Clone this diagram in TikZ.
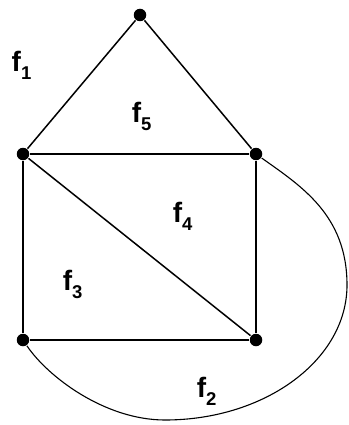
\documentclass[tikz,border=0pt]{standalone}
\usepackage{fontspec}
\setmainfont{Liberation Sans}
\tikzset{every picture/.style={line width=1.5pt}}
\newcommand{\face}[1]{{\fontsize{28}{28}\selectfont\bfseries f}\raisebox{-8pt}{\fontsize{18.5}{18.5}\selectfont\bfseries #1}}

\begin{document}
\begin{tikzpicture}[x=1pt, y=-1pt,
    vertex/.style={circle, fill=black, inner sep=0pt, minimum size=12.5pt},
    facelabel/.style={anchor=base west, inner sep=0pt}]
        \useasboundingbox (0,0) rectangle (348,425);
        % vertices
        \node[vertex] (t) at (140,15)  {};
        \node[vertex] (a) at (23,154)  {};
        \node[vertex] (b) at (256,154) {};
        \node[vertex] (c) at (23,340)  {};
        \node[vertex] (d) at (256,340) {};
        % straight edges
        \draw (t) -- (a); \draw (t) -- (b);
        \draw (a) -- (b); \draw (a) -- (c);
        \draw (b) -- (d); \draw (c) -- (d);
        \draw (a) -- (d);
        % outer curved edge
        \draw[line width=1.1pt] (b) .. controls (301,186) and (347,215) .. (347,285)
            .. controls (347,360) and (265,420) .. (165,420)
            .. controls (105,420) and (48,377) .. (c);
        % faces
        \node[facelabel] (f1) at (11,72)   {\face{1}};
        \node[facelabel] (f5) at (131,122) {\face{5}};
        \node[facelabel] (f4) at (172,222) {\face{4}};
        \node[facelabel] (f3) at (62,290)  {\face{3}};
        \node[facelabel] (f2) at (196,397) {\face{2}};
    \end{tikzpicture}
\end{document}
